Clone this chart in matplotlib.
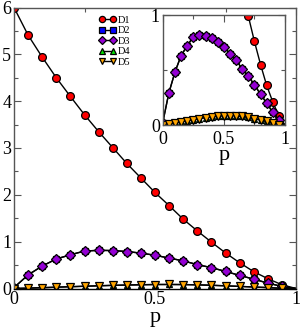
import numpy as np
import matplotlib
matplotlib.use("Agg")
import matplotlib.pyplot as plt
from matplotlib.ticker import MultipleLocator

plt.rcParams['font.family'] = ['Liberation Serif', 'DejaVu Serif']

# data (p = 0 .. 1 in steps of 0.05)
p = [0.0, 0.05, 0.1, 0.15, 0.2, 0.25, 0.3, 0.35, 0.4, 0.45, 0.5,
     0.55, 0.6, 0.65, 0.7, 0.75, 0.8, 0.85, 0.9, 0.95, 1.0]
d1 = [6.0, 5.41, 4.94, 4.50, 4.10, 3.71, 3.35, 3.01, 2.67, 2.36, 2.05,
      1.77, 1.48, 1.23, 0.99, 0.76, 0.55, 0.36, 0.21, 0.08, 0.0]
d2 = [0.02, 0.29, 0.48, 0.63, 0.72, 0.80, 0.815, 0.81, 0.79, 0.755, 0.71,
      0.65, 0.59, 0.51, 0.445, 0.365, 0.28, 0.20, 0.115, 0.045, 0.0]
d3 = list(d2)
d4 = [0.0, 0.008, 0.017, 0.028, 0.038, 0.048, 0.058, 0.067, 0.074, 0.08, 0.085,
      0.086, 0.084, 0.078, 0.069, 0.057, 0.045, 0.032, 0.019, 0.004, 0.0]
d5 = list(d4)
labels = ['D1', 'D2', 'D3', 'D4', 'D5']

series = [d1, d2, d3, d4, d5]
styles = [('o', '#ff0000', 5.6), ('s', '#0000ff', 5.0), ('D', '#9400d3', 4.6),
          ('^', '#00e000', 5.0), ('v', '#ffa500', 5.6)]

fig = plt.figure(figsize=(3.01, 3.27), dpi=100)
ax = fig.add_axes([14/301, 1-288.5/327, 282/301, 281/327])
ins = fig.add_axes([162.7/301, 1-125/327, 122.3/301, 110/327])

n_mark = len(p) - 1  # last point (p=1) has no visible marker

for a in (ax, ins):
    for y, lab, (m, c, ms) in zip(series, labels, styles):
        a.plot(p, y, '-', color='black', lw=1.0, marker=m, ms=ms,
               mfc=c, mec='black', mew=0.9, markevery=list(range(n_mark)),
               label=lab)

ax.set_xlim(0, 1)
ax.set_ylim(0, 6)
ax.xaxis.set_major_locator(MultipleLocator(0.5))
ax.xaxis.set_minor_locator(MultipleLocator(0.25))
ax.yaxis.set_major_locator(MultipleLocator(1))
ax.yaxis.set_minor_locator(MultipleLocator(0.5))
ax.set_xticks([0, 0.5, 1], ['0', '0.5', '1'])
ax.set_xlabel('p', fontsize=16, labelpad=0)

ins.set_xlim(0, 1)
ins.set_ylim(0, 1)
ins.set_xticks([0, 0.5, 1], ['0', '0.5', '1'])
ins.xaxis.set_minor_locator(MultipleLocator(0.25))
ins.set_yticks([0, 1], ['0', '1'])
ins.yaxis.set_minor_locator(MultipleLocator(0.5))
ins.set_xlabel('p', fontsize=16, labelpad=-1)

for a in (ax, ins):
    a.tick_params(which='both', direction='in', top=True, right=True,
                  labelsize=13, pad=2, width=0.8, color='#555555')
    a.tick_params(which='major', length=5)
    a.tick_params(which='minor', length=3)
    for s in a.spines.values():
        s.set_color('#555555')
        s.set_linewidth(1.0)
ax.spines['bottom'].set_color('black')
ins.tick_params(axis='x', pad=4)

ax.legend(loc='upper left', bbox_to_anchor=(0.30, 0.972), frameon=False,
          fontsize=7.5, numpoints=2, markerscale=0.8, handlelength=1.7,
          handletextpad=0.15, labelspacing=0.12, borderpad=0, borderaxespad=0)

fig.savefig('out.png', dpi=100)
